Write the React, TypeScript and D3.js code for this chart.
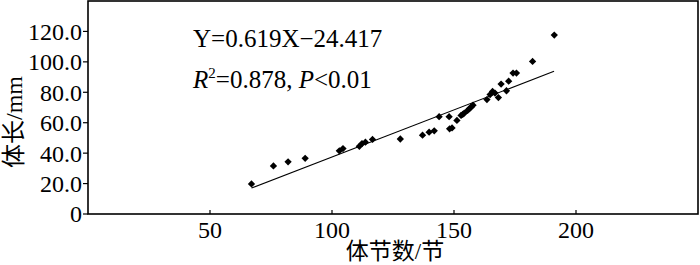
import React from "react";
import * as d3 from "d3";

const segX: number[] = [67.0, 76.0, 82.0, 89.0, 103.0, 104.5, 111.2, 112.3, 113.7, 116.6, 128.0, 137.1, 139.8, 141.9, 143.9, 148.0, 148.2, 149.2, 151.2, 152.9, 153.6, 154.2, 155.6, 156.3, 157.0, 157.8, 163.5, 164.8, 165.8, 166.8, 168.2, 169.3, 171.5, 172.4, 174.2, 175.6, 182.2, 191.1];
const lenY: number[] = [19.8, 31.6, 34.3, 36.6, 41.5, 43.0, 44.5, 46.3, 47.2, 49.0, 49.3, 51.8, 53.8, 54.7, 64.0, 64.0, 56.0, 56.6, 61.5, 64.8, 65.5, 66.3, 68.1, 69.2, 70.2, 71.5, 75.2, 78.5, 80.5, 79.5, 76.5, 85.4, 81.0, 87.3, 92.6, 92.6, 100.3, 117.6];
const xTicks: number[] = [50, 100, 150, 200];
const yTicks: number[] = [0, 20, 40, 60, 80, 100, 120];
const slope = 0.619;
const intercept = -24.417;
const fitRange: number[] = [67, 191];

const W = 700, H = 265;
const L = 88, R = 698, T = 1, B = 214;
const serif = "'Liberation Serif', 'Times New Roman', 'Noto Sans CJK SC', serif";

export default function App() {
  const x = d3.scaleLinear().domain([0, 250]).range([L, R]);
  const y = d3.scaleLinear().domain([0, 140]).range([B, T]);
  const sym = d3.symbol().type(d3.symbolDiamond2).size(34)();
  const line = d3.line<number>().x((d) => x(d)).y((d) => y(slope * d + intercept));
  return (
    <svg width={W} height={H} style={{ position: "absolute", left: 0, top: 0, background: "#fff" }} fontFamily={serif}>
      <rect x={0} y={0} width={W} height={H} fill="#fff" />
      <rect x={L} y={T} width={R - L} height={B - T} fill="none" stroke="#000" strokeWidth={1.6} />
      {xTicks.map((t) => (
        <g key={"x" + t}>
          <line x1={x(t)} x2={x(t)} y1={B} y2={B - 4} stroke="#000" strokeWidth={1.2} />
          <text x={x(t)} y={238} textAnchor="middle" fontSize={24}>{t}</text>
        </g>
      ))}
      {yTicks.map((t) => (
        <g key={"y" + t}>
          <line x1={L} x2={L - 5} y1={y(t)} y2={y(t)} stroke="#000" strokeWidth={1.2} />
          <text x={82} y={y(t)} dy="0.35em" textAnchor="end" fontSize={24}>{t === 0 ? "0" : t.toFixed(1)}</text>
        </g>
      ))}
      <path d={line(fitRange) || ""} fill="none" stroke="#000" strokeWidth={1.1} />
      {segX.map((v, i) => (
        <path key={"p" + i} d={sym || ""} transform={`translate(${x(v)},${y(lenY[i])})`} fill="#000" />
      ))}
      <text x={193} y={47} fontSize={25}>Y=0.619X−24.417</text>
      <text x={193} y={88} fontSize={25}>
        <tspan fontStyle="italic">R</tspan>
        <tspan fontSize={15} dy={-10}>2</tspan>
        <tspan dy={10}>=0.878, </tspan>
        <tspan fontStyle="italic">P</tspan>
        <tspan>&lt;0.01</tspan>
      </text>
      <text x={395} y={259} textAnchor="middle" fontSize={23}>体节数/节</text>
      <text transform="translate(22,122) rotate(-90)" textAnchor="middle" fontSize={24}>体长/mm</text>
    </svg>
  );
}
